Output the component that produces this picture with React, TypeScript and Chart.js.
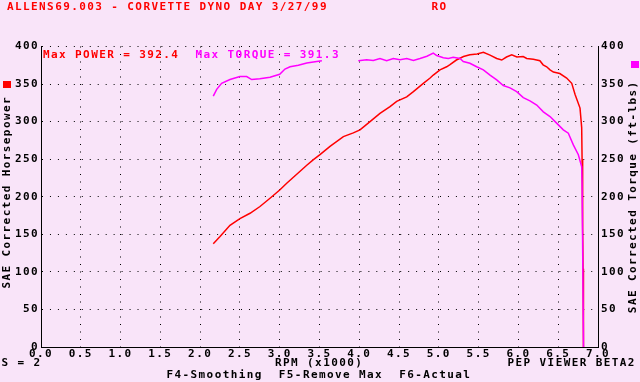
import { useEffect, useRef } from 'react';
import { Chart, registerables } from 'chart.js';

Chart.register(...registerables);

// ---- data ----
const powerRpm = [
  2.165, 2.25, 2.375, 2.5, 2.627, 2.752, 2.878, 3.0, 3.088, 3.214, 3.34, 3.42, 3.506, 3.632, 3.8, 3.925,
  4.009, 4.135, 4.26, 4.386, 4.47, 4.596, 4.68, 4.805, 4.89, 4.93, 5.014, 5.098, 5.14, 5.22, 5.31, 5.39,
  5.48, 5.56, 5.643, 5.727, 5.79, 5.85, 5.916, 5.98, 6.06, 6.104, 6.187, 6.27, 6.31, 6.355, 6.397, 6.44,
  6.52, 6.606, 6.67, 6.712, 6.774, 6.795, 6.8, 6.806, 6.808, 6.812, 6.814, 6.818, 6.82,
];
const powerHp = [
  137.5, 147, 162, 171, 178, 187, 198, 209, 218, 230, 242, 249, 256, 267, 280, 285,
  289, 300, 311, 320, 327, 333, 340, 351, 358, 362, 369, 373, 376, 382, 386.6, 389,
  390, 392.4, 388.5, 384, 382, 386, 389, 386, 386.6, 384, 383, 381, 375.6, 373, 369, 366,
  364, 358, 351, 336, 318, 292, 250, 216, 160, 104, 82, 14, 0,
];
const torqueRpm = [
  2.165, 2.208, 2.27, 2.375, 2.5, 2.585, 2.648, 2.75, 2.878, 3.0, 3.066, 3.13, 3.234, 3.34, 3.465, 3.53,
  3.75,
  3.988, 4.093, 4.176, 4.26, 4.344, 4.428, 4.512, 4.596, 4.68, 4.763, 4.85, 4.93, 4.973, 5.056, 5.119,
  5.18, 5.266, 5.307, 5.39, 5.475, 5.559, 5.643, 5.727, 5.81, 5.894, 5.978, 6.061, 6.145, 6.23, 6.313,
  6.397, 6.48, 6.564, 6.627, 6.69, 6.753, 6.795, 6.8, 6.818,
];
const torqueFt: (number | null)[] = [
  334, 343, 351, 356, 360, 360, 356, 357, 359, 363, 370, 373, 375, 378, 380, 381,
  null,
  381, 382.5, 381.5, 384, 381, 384, 382.5, 384, 381.5, 384, 387, 391.3, 388, 385, 384,
  385.6, 384, 380, 377.7, 373, 369, 362, 355.5, 348, 345, 340, 332, 327.6, 322, 313,
  306.7, 298, 289, 284.6, 269, 256, 240, 218, 0,
];
const rpmTickLabels = ['0.0', '0.5', '1.0', '1.5', '2.0', '2.5', '3.0', '3.5', '4.0', '4.5', '5.0', '5.5', '6.0', '6.5', '7.0'];

const titleText = 'ALLENS69.003 - CORVETTE DYNO DAY 3/27/99';
const runText = 'RO';
const maxPowerText = 'Max POWER = 392.4';
const maxTorqueText = 'Max TORQUE = 391.3';
const leftAxisTitle = 'SAE Corrected Horsepower';
const rightAxisTitle = 'SAE Corrected Torque (ft-lbs)';
const xAxisTitle = 'RPM (x1000)';
const smoothText = 'S = 2';
const viewerText = 'PEP VIEWER BETA2';
const keysText = 'F4-Smoothing  F5-Remove Max  F6-Actual';

const RED = '#ff0000';
const MAGENTA = '#ff00ff';
const PINK = '#f9e4f9';
const FAMILY = '"DejaVu Sans Mono", "Liberation Mono", monospace';
const FONT = 'bold 11px ' + FAMILY;
const SPACING = '1.4px';

const decor = {
  id: 'decor',
  beforeDraw(chart: any) {
    const ctx = chart.ctx;
    ctx.save();
    ctx.fillStyle = PINK;
    ctx.fillRect(0, 0, chart.width, chart.height);
    ctx.restore();
    ctx.letterSpacing = SPACING;
  },
  afterDraw(chart: any) {
    const ctx = chart.ctx;
    ctx.save();
    ctx.letterSpacing = SPACING;
    ctx.font = FONT;
    ctx.textBaseline = 'middle';
    ctx.textAlign = 'left';
    const t = (s: string, x: number, y: number, c: string) => {
      ctx.fillStyle = c;
      ctx.fillText(s, x, y);
    };
    t(titleText, 7, 7.5, RED);
    t(runText, 431.5, 7.5, RED);
    t(maxPowerText, 43, 55, RED);
    t(maxTorqueText, 195.5, 55, MAGENTA);
    t(smoothText, 1.5, 363.5, '#000');
    t(xAxisTitle, 275, 363.5, '#000');
    t(viewerText, 507.5, 363.5, '#000');
    t(keysText, 166.5, 375.5, '#000');
    // legend squares
    ctx.fillStyle = RED;
    ctx.fillRect(3, 81, 8, 7);
    ctx.fillStyle = MAGENTA;
    ctx.fillRect(631, 61, 8, 7);
    // rotated axis titles
    ctx.textAlign = 'center';
    ctx.fillStyle = '#000';
    ctx.save();
    ctx.translate(7, 193);
    ctx.rotate(-Math.PI / 2);
    ctx.fillText(leftAxisTitle, 0.7, 0);
    ctx.restore();
    ctx.save();
    ctx.translate(633.5, 197.5);
    ctx.rotate(-Math.PI / 2);
    ctx.fillText(rightAxisTitle, 0.7, 0);
    ctx.restore();
    ctx.restore();
  },
};

export default function App() {
  const ref = useRef<HTMLCanvasElement | null>(null);
  useEffect(() => {
    if (!ref.current) return;
    const tickFont = { family: FAMILY, size: 11, weight: 'bold' as const };
    const chart = new Chart(ref.current, {
      type: 'line',
      data: {
        datasets: [
          {
            label: 'Torque',
            data: torqueRpm.map((x, i) => ({ x, y: torqueFt[i] })) as any,
            borderColor: MAGENTA,
            backgroundColor: MAGENTA,
            borderWidth: 1.5,
            pointRadius: 0,
            tension: 0,
            spanGaps: false,
            yAxisID: 'yR',
            order: 0,
          },
          {
            label: 'Power',
            data: powerRpm.map((x, i) => ({ x, y: powerHp[i] })),
            borderColor: RED,
            backgroundColor: RED,
            borderWidth: 1.5,
            pointRadius: 0,
            tension: 0,
            yAxisID: 'y',
            order: 1,
          },
        ],
      },
      options: {
        responsive: false,
        animation: false,
        layout: { padding: { top: 46.5, left: 0, right: 0, bottom: 0 } },
        plugins: { legend: { display: false }, tooltip: { enabled: false } },
        scales: {
          x: {
            type: 'linear',
            min: 0,
            max: 7,
            afterFit: (s: any) => { s.height = 35; },
            ticks: {
              stepSize: 0.5,
              autoSkip: false,
              maxRotation: 0,
              padding: 1,
              color: '#000',
              font: tickFont,
              callback: (v: any, i: number) => rpmTickLabels[i] ?? Number(v).toFixed(1),
            },
            grid: { color: '#000', lineWidth: 1, drawTicks: false },
            border: { display: true, color: '#000', width: 1, dash: [1, 6.5] },
          },
          y: {
            type: 'linear',
            position: 'left',
            min: 0,
            max: 400,
            afterFit: (s: any) => { s.width = 41; },
            ticks: { stepSize: 50, padding: 2, color: '#000', font: tickFont },
            grid: { color: '#000', lineWidth: 1, drawTicks: false },
            border: { display: true, color: '#000', width: 1, dash: [1, 6.96] },
          },
          yR: {
            type: 'linear',
            position: 'right',
            min: 0,
            max: 400,
            afterFit: (s: any) => { s.width = 42; },
            ticks: { stepSize: 50, padding: 3, color: '#000', font: tickFont },
            grid: { display: false, drawTicks: false },
            border: { display: true, color: '#000', width: 1 },
          },
        },
      },
      plugins: [decor],
    });
    return () => chart.destroy();
  }, []);
  return (
    <canvas
      ref={ref}
      width={640}
      height={382}
      style={{ position: 'absolute', left: 0, top: 0, width: 640, height: 382, display: 'block' }}
    />
  );
}
